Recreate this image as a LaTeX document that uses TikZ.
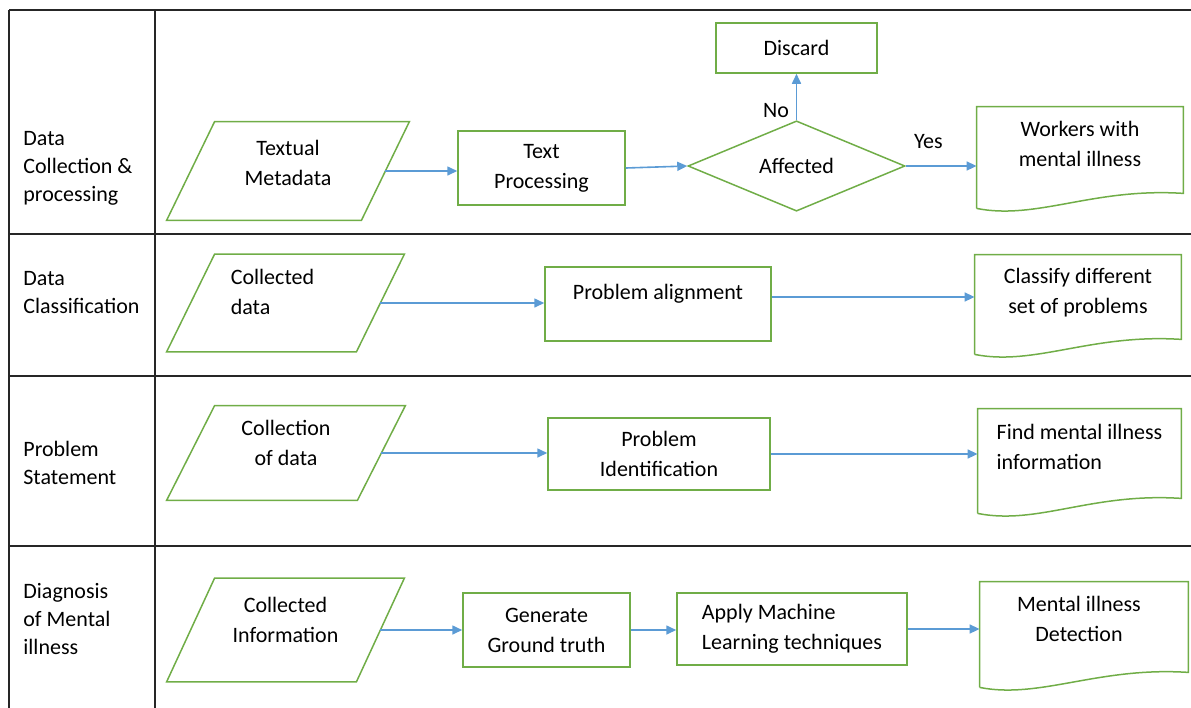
\documentclass[tikz,border=0pt]{standalone}
\usepackage{fontspec}
\setmainfont{Carlito}
\usetikzlibrary{shapes.geometric,arrows.meta}
\definecolor{boxgreen}{HTML}{70AD47}
\definecolor{flowblue}{HTML}{5B9BD5}
\tikzset{
  box/.style={draw=boxgreen, line width=0.75pt, align=center, inner sep=2pt},
  frame/.style={inner sep=0pt},
  tag/.style={align=center, inner sep=0pt},
  outline/.style={draw=boxgreen, line width=0.75pt},
  flow/.style={draw=flowblue, line width=0.8pt, -{Triangle[length=5pt,width=4.5pt]}},
  grid/.style={line width=0.8pt, black!85},
  lane/.style={anchor=west, align=left, inner sep=0pt, font=\fontsize{11}{14}\selectfont}
}
\begin{document}
\begin{tikzpicture}[x=0.5pt,y=-0.5pt,font=\fontsize{11}{15}\selectfont]
		\useasboundingbox (0,0) rectangle (1191,708);
		% Table
		\draw[grid] (9,10) -- (1191,10);
		\foreach \y in {234,376,546}
		\draw[grid] (9,\y) -- (1191,\y);
		\draw[grid] (9,10) -- (9,708);
		\draw[grid] (155,10) -- (155,708);
		
		% Lane titles
		\node[lane] (lane1) at (23,168) {Data\\Collection \&\\processing};
		\node[lane] (lane2) at (23,293) {Data\\Classification};
		\node[lane] (lane3) at (23,463) {Problem\\Statement};
		\node[lane] (lane4) at (23,619) {Diagnosis\\of Mental\\illness};
		
		% Inputs
		\node[frame, minimum width=97pt, minimum height=49pt] (meta) at (288,171) {};
		\node[frame, minimum width=94.5pt, minimum height=48.5pt] (colldata) at (285.5,303) {};
		\node[frame, minimum width=95pt, minimum height=47pt] (collof) at (286,453) {};
		\node[frame, minimum width=94.5pt, minimum height=51.5pt] (collinfo) at (285.5,630) {};
		\foreach \n in {meta,colldata,collof,collinfo}
		\draw[outline] ([xshift=12pt]\n.north west) -- ([xshift=12pt]\n.north east) -- ([xshift=-12pt]\n.south east) -- ([xshift=-12pt]\n.south west) -- cycle;
		\node[tag] (metatext) at ([yshift=4pt]meta.center) {Textual\\Metadata};
		\node[tag, align=left] (colldatatext) at ([xshift=-6.5pt,yshift=5.5pt]colldata.center) {Collected\\data};
		\node[tag] (colloftext) at ([yshift=5pt]collof.center) {Collection\\of data};
		\node[tag] (collinfotext) at ([yshift=5pt]collinfo.center) {Collected\\Information};
		
		% Steps
		\node[box, minimum width=83.5pt, minimum height=37pt] (textproc) at (541.5,168) {Text\\Processing};
		\node[box, diamond, minimum width=108.5pt, minimum height=44pt, inner sep=0pt] (affected) at (796.5,166) {Affected};
		\node[box, minimum width=80.5pt, minimum height=25pt] (discard) at (796.5,48) {Discard};
		\node[box, minimum width=113pt, minimum height=37pt, text depth=12.5pt] (align) at (658,304) {Problem alignment};
		\node[box, minimum width=111pt, minimum height=36pt] (ident) at (659,454) {Problem\\Identification};
		\node[box, minimum width=83.5pt, minimum height=37pt] (ground) at (546.5,630) {Generate\\Ground truth};
		\node[box, minimum width=115pt, minimum height=36pt, align=left] (apply) at (792,629) {Apply Machine\\Learning techniques};
		
		% Outputs
		\node[frame, minimum width=103pt, minimum height=43pt] (workers) at (1080,150) {};
		\node[frame, minimum width=103pt, minimum height=42pt] (classify) at (1078,297) {};
		\node[frame, minimum width=101.5pt, minimum height=44.5pt] (findinfo) at (1079.5,453.5) {};
		\node[frame, minimum width=104pt, minimum height=45pt] (detect) at (1084,627) {};
		\foreach \n in {workers,classify,findinfo,detect}
		\draw[outline] ([yshift=-7.5pt]\n.south west) -- (\n.north west) -- (\n.north east) -- (\n.south east) .. controls +(-90,-6) and +(60,12) .. ([yshift=-7.5pt]\n.south west);
		\node[tag] (workerstext) at ([yshift=3pt]workers.center) {Workers with\\mental illness};
		\node[tag] (classifytext) at ([yshift=2pt]classify.center) {Classify different\\set of problems};
		\node[tag, align=left] (findinfotext) at ([yshift=3.5pt]findinfo.center) {Find mental illness\\information};
		\node[tag] (detecttext) at ([xshift=-2.5pt,yshift=4pt]detect.center) {Mental illness\\Detection};
		
		% Arrows
		\draw[flow] (meta.east) -- (meta.east -| textproc.west);
		\draw[flow] (textproc.east) -- (affected.west);
		\draw[flow] (affected.north) -- (discard.south) node[pos=0.2, left] {No};
		\draw[flow] (affected.east) -- (affected.east -| workers.west) node[pos=0.32, above=5pt] {Yes};
		\draw[flow] (colldata.east) -- (colldata.east -| align.west);
		\draw[flow] (align.east |- classify.west) -- (classify.west);
		\draw[flow] (collof.east) -- (collof.east -| ident.west);
		\draw[flow] (ident.east) -- (ident.east -| findinfo.west);
		\draw[flow] (collinfo.east) -- (collinfo.east -| ground.west);
		\draw[flow] (ground.east) -- (ground.east -| apply.west);
		\draw[flow] (apply.east) -- (apply.east -| detect.west);
		\end{tikzpicture}
\end{document}
